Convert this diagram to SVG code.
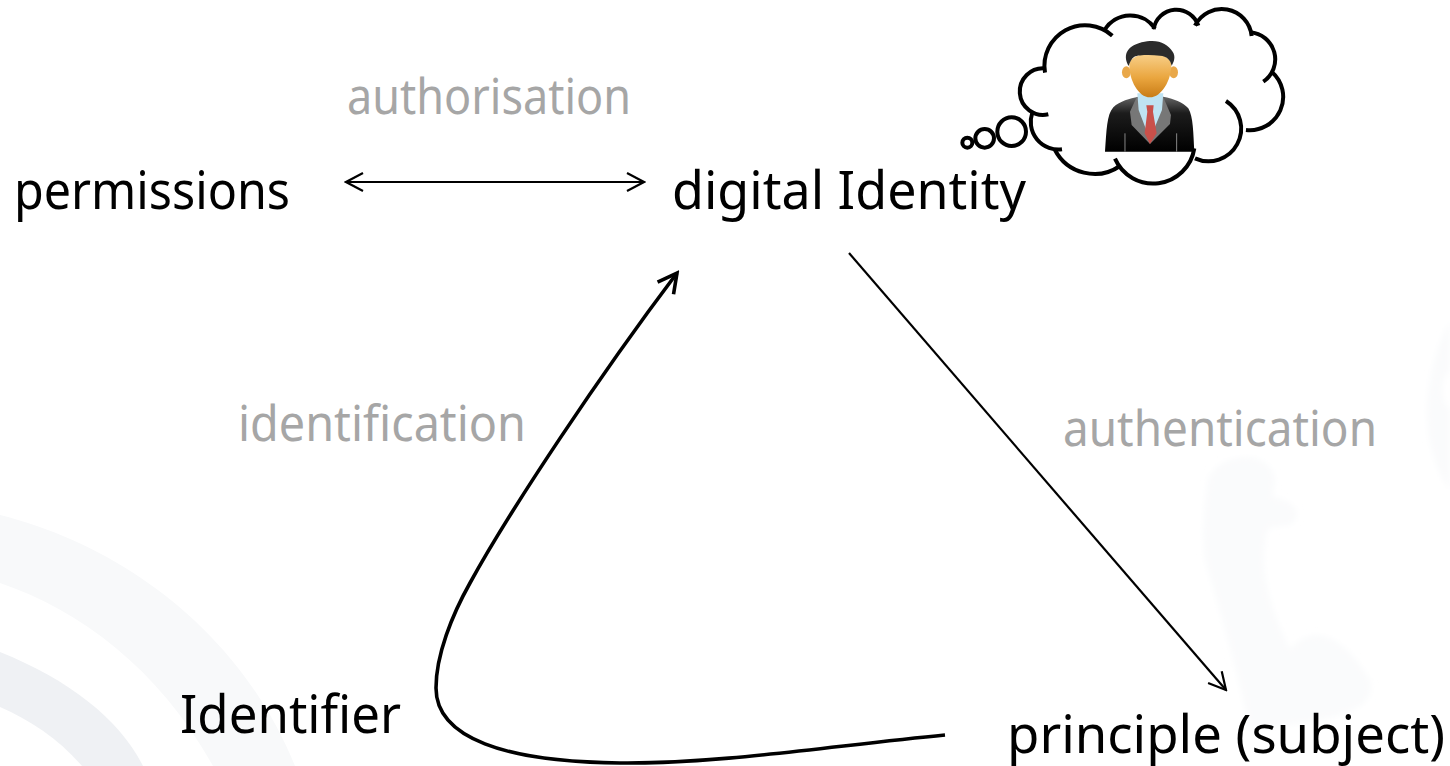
<svg xmlns="http://www.w3.org/2000/svg" width="1450" height="766" viewBox="0 0 1450 766">
<style>
text{font-family:"Noto Sans","DejaVu Sans",sans-serif;font-size:52px}
text.g{font-size:49px;fill:#a6a6a6}
.k{fill:#000}
.c{fill:none;stroke:#000;stroke-linecap:butt}
.cl{fill:none;stroke:#000;stroke-width:12}
</style>
<defs>
<filter id="blur" x="-10%" y="-10%" width="120%" height="120%"><feGaussianBlur stdDeviation="3"/></filter>
<marker id="a" viewBox="0 0 20 20" refX="18" refY="10" markerWidth="20" markerHeight="20" markerUnits="userSpaceOnUse" orient="auto-start-reverse"><path d="M1 1L18 10L1 19" fill="none" stroke="#000" stroke-width="2.2"/></marker>
<marker id="b" viewBox="0 0 24 24" refX="21" refY="12" markerWidth="24" markerHeight="24" markerUnits="userSpaceOnUse" orient="auto"><path d="M2 2L21 12L2 22" fill="none" stroke="#000" stroke-width="3.6"/></marker>
<linearGradient id="f" x1="0" y1="0" x2="0" y2="1"><stop offset="0" stop-color="#f8d08a"/><stop offset=".55" stop-color="#eaa63f"/><stop offset="1" stop-color="#c97c16"/></linearGradient>
<linearGradient id="s" x1="0" y1="0" x2="0" y2="1"><stop offset="0" stop-color="#666"/><stop offset=".3" stop-color="#1c1c1c"/><stop offset="1" stop-color="#000"/></linearGradient>
</defs>
<rect width="1450" height="766" fill="#fff"/>
<g id="background">
<path d="M0 515C120 545 240 630 295 766L213 766C160 670 80 610 0 583Z" fill="#f8f9fa"/>
<path d="M0 652C70 680 120 720 143 766L82 766C60 740 30 720 0 707Z" fill="#eff1f4"/>
<g filter="url(#blur)">
<path d="M1208 480C1215 455 1270 445 1275 480L1272 497C1295 500 1305 515 1290 525L1268 528C1260 560 1262 590 1290 650C1310 625 1340 630 1370 680C1378 710 1340 720 1250 730C1240 680 1220 610 1205 560C1202 530 1204 505 1208 480Z" fill="#fafbfc"/>
<path d="M1450 320C1425 370 1415 440 1450 490L1450 410C1440 400 1440 380 1450 370Z" fill="#fafbfc"/>
</g>
</g>
<g id="connectors">
<path class="c" stroke-width="2" d="M346 182H644" marker-start="url(#a)" marker-end="url(#a)"/>
<path class="c" stroke-width="2.2" d="M849 253L1226 690" marker-end="url(#a)"/>
<path class="c" stroke-width="3.6" d="M945 735C830 746 720 764 620 763C505 762 436 738 436 688C436 655 452 615 470 583C510 510 600 375 677 273" marker-end="url(#b)"/>
</g>
<g id="permissions"><text class="k" x="14" y="209" textLength="276" lengthAdjust="spacingAndGlyphs">permissions</text></g>
<g id="digital-identity"><text class="k" x="672" y="209" textLength="354" lengthAdjust="spacingAndGlyphs">digital Identity</text></g>
<g id="identifier"><text class="k" x="180" y="733" textLength="221" lengthAdjust="spacingAndGlyphs">Identifier</text></g>
<g id="principle"><text class="k" x="1007" y="753" textLength="438" lengthAdjust="spacingAndGlyphs">principle (subject)</text></g>
<g id="label-authorisation"><text class="g" x="347" y="114" textLength="284" lengthAdjust="spacingAndGlyphs">authorisation</text></g>
<g id="label-identification"><text class="g" x="238" y="441" textLength="288" lengthAdjust="spacingAndGlyphs">identification</text></g>
<g id="label-authentication"><text class="g" x="1063" y="446" textLength="314" lengthAdjust="spacingAndGlyphs">authentication</text></g>
<g id="thought-cloud" transform="translate(950 0) scale(.3333)">
<path class="cl" d="M285 218A122 122 0 0 1 487 107"/>
<path class="cl" d="M465 88A90 90 0 0 1 615 85"/>
<path class="cl" d="M611 88A69 69 0 0 1 745 77"/>
<path class="cl" d="M735 77A90 90 0 0 1 905 108"/>
<path class="cl" d="M900 97A81 81 0 0 1 940 245"/>
<path class="cl" d="M965 215A100 100 0 0 1 888 390"/>
<path class="cl" d="M828 303A98 98 0 0 1 735 475"/>
<path class="cl" d="M733 445A125 125 0 0 1 495 476"/>
<path class="cl" d="M510 498A134 134 0 0 1 315 450"/>
<path class="cl" d="M336 448A83 83 0 0 1 247 338"/>
<path class="cl" d="M295 343A70 70 0 1 1 285 205"/>
<circle class="cl" cx="185" cy="395" r="43"/>
<circle class="cl" cx="104" cy="415" r="28"/>
<circle class="cl" cx="52" cy="428" r="15"/>
</g>
<g id="person" transform="translate(950 0) scale(.3333)">
<path d="M465 455C470 390 470 345 490 322C510 302 540 296 565 290L640 290C670 296 700 306 715 325C730 350 730 400 733 455Z" fill="url(#s)"/>
<path d="M525 400V455M680 400V455" stroke="#888" stroke-width="3"/>
<path d="M540 335L560 292L600 350L640 292L663 345L660 372L600 432L545 375Z" fill="#777"/>
<path d="M562 280L640 280L636 330L612 388L600 345L588 388L566 330Z" fill="#bfe3f2"/>
<path d="M589 316L611 316L609 335L620 400L600 432L584 400L592 335Z" fill="#c9504a"/>
<ellipse cx="529" cy="217" rx="13" ry="18" fill="#e9a84a"/>
<ellipse cx="671" cy="217" rx="13" ry="18" fill="#e9a84a"/>
<path d="M538 195C538 150 665 150 664 195C664 240 635 292 600 292C565 292 538 240 538 195Z" fill="url(#f)"/>
<path d="M536 198C520 170 525 140 575 127C625 116 650 130 668 155C678 170 672 185 665 197C662 180 650 168 630 167C600 164 565 165 553 170C545 175 540 185 536 198Z" fill="#2b2b2b"/>
</g>
</svg>
